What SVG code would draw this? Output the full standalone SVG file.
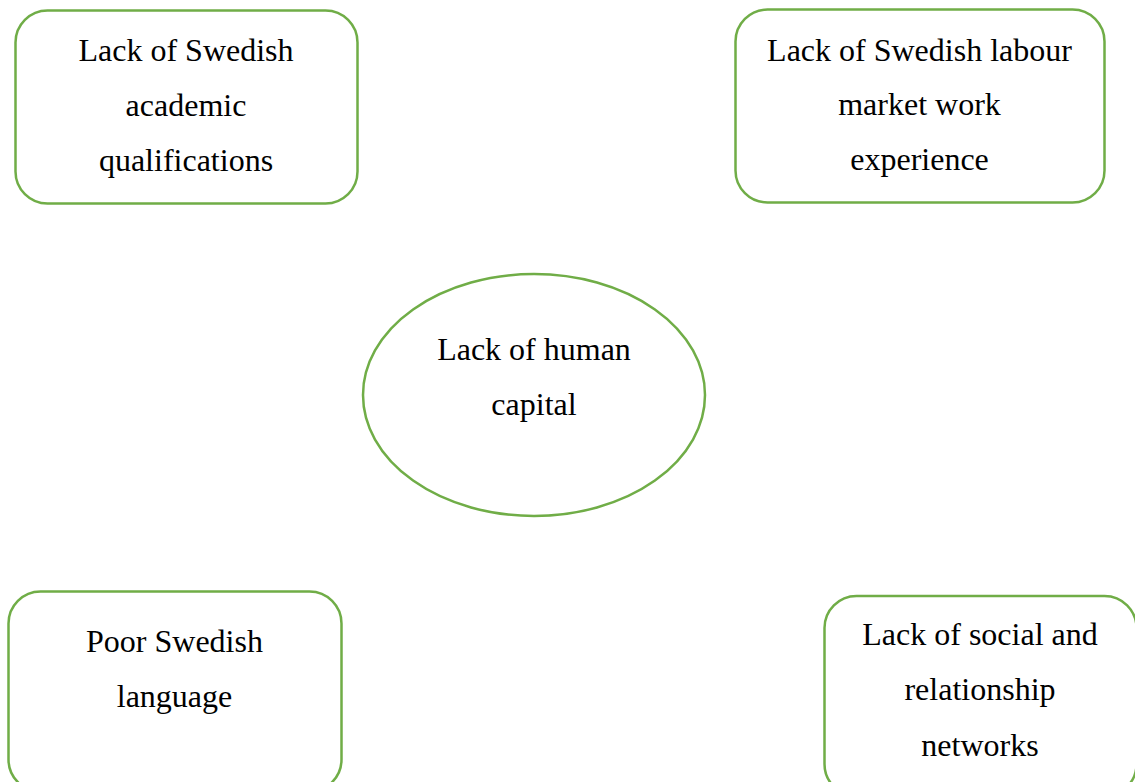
<svg xmlns="http://www.w3.org/2000/svg" width="1135" height="782" viewBox="0 0 1135 782">
<style>
.box{fill:#fff;stroke:#70AD47;stroke-width:2.5}
.t{font-family:"Liberation Serif","Times New Roman",serif;font-size:32px;fill:#000;text-anchor:middle}
</style>
<rect width="1135" height="782" fill="#fff"/>
<g id="connectors"/>
<g id="n1">
<rect class="box" x="15.5" y="10.5" width="342" height="193" rx="32" ry="32"/>
<text class="t" x="186" y="61">Lack of Swedish</text>
<text class="t" x="186" y="116">academic</text>
<text class="t" x="186" y="171">qualifications</text>
</g>
<g id="n2">
<rect class="box" x="735.5" y="9.5" width="369" height="193" rx="32" ry="32"/>
<text class="t" x="919.5" y="61">Lack of Swedish labour</text>
<text class="t" x="919.5" y="115">market work</text>
<text class="t" x="919.5" y="170">experience</text>
</g>
<g id="n3">
<ellipse class="box" cx="534" cy="395" rx="171" ry="121"/>
<text class="t" x="534" y="360">Lack of human</text>
<text class="t" x="534" y="415">capital</text>
</g>
<g id="n4">
<rect class="box" x="8.5" y="591.5" width="333" height="200" rx="32" ry="32"/>
<text class="t" x="174.5" y="652">Poor Swedish</text>
<text class="t" x="174.5" y="707">language</text>
</g>
<g id="n5">
<rect class="box" x="824.5" y="596" width="312" height="200" rx="32" ry="32"/>
<text class="t" x="980" y="645">Lack of social and</text>
<text class="t" x="980" y="700">relationship</text>
<text class="t" x="980" y="756">networks</text>
</g>
</svg>
